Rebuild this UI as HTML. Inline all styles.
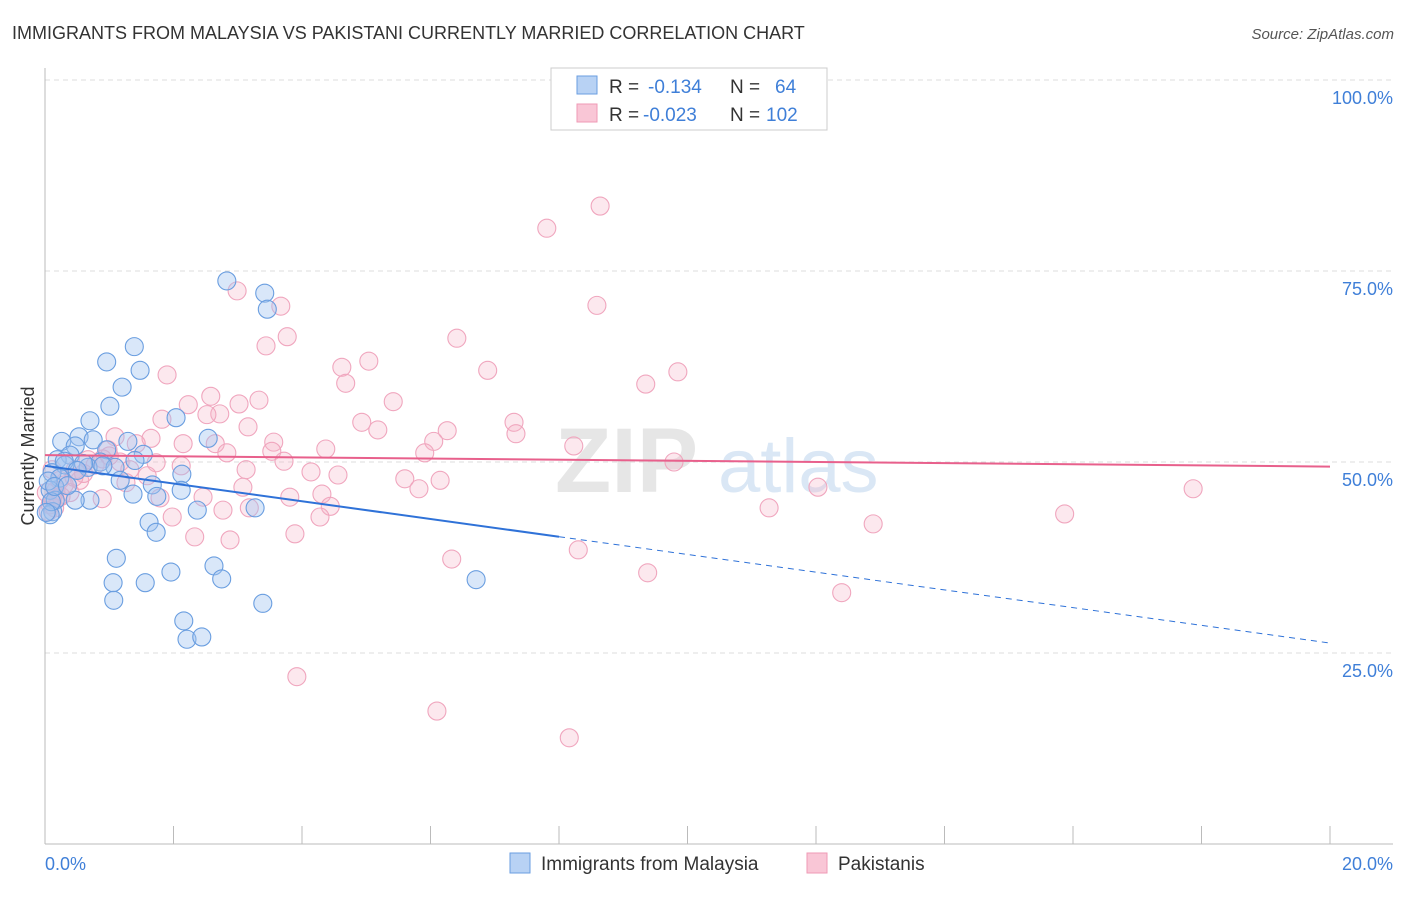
<!DOCTYPE html>
<html><head><meta charset="utf-8"><style>
body{margin:0;background:#fff;font-family:"Liberation Sans",sans-serif}
svg text{font-family:"Liberation Sans",sans-serif}
</style></head><body>
<svg id="c" width="1406" height="892" xmlns="http://www.w3.org/2000/svg">
<text x="12" y="39" font-size="18" fill="#333">IMMIGRANTS FROM MALAYSIA VS PAKISTANI CURRENTLY MARRIED CORRELATION CHART</text>
<text x="1394" y="39" font-size="15" fill="#555" text-anchor="end" font-style="italic">Source: ZipAtlas.com</text>
<g><text x="555" y="492" font-size="92" fill="#e6e6e6" font-family="Liberation Serif" font-weight="bold">ZIP</text><text x="718" y="492" font-size="76" fill="#dae7f5">atlas</text></g>
<g id="grid"></g><g id="pts"></g><g id="lines"></g>
<text transform="translate(34,456) rotate(-90)" font-size="18" fill="#333" text-anchor="middle">Currently Married</text>
<g>
<rect x="551" y="68" width="276" height="62" fill="#fff" stroke="#ccc"/>
<rect x="577" y="76" width="20" height="18" fill="#b8d2f4" stroke="#6a9ee0"/>
<rect x="577" y="104" width="20" height="18" fill="#f9c6d6" stroke="#ef9ab5"/>
<text x="609" y="93" font-size="19" fill="#333">R =</text><text x="648" y="93" font-size="19" fill="#3f7fd8">-0.134</text>
<text x="730" y="93" font-size="19" fill="#333">N =</text><text x="775" y="93" font-size="19" fill="#3f7fd8">64</text>
<text x="609" y="121" font-size="19" fill="#333">R =</text><text x="643" y="121" font-size="19" fill="#3f7fd8">-0.023</text>
<text x="730" y="121" font-size="19" fill="#333">N =</text><text x="766" y="121" font-size="19" fill="#3f7fd8">102</text>
</g>
<g>
<rect x="510" y="853" width="20" height="20" fill="#b8d2f4" stroke="#6a9ee0"/>
<text x="541" y="870" font-size="19" fill="#333">Immigrants from Malaysia</text>
<rect x="807" y="853" width="20" height="20" fill="#f9c6d6" stroke="#ef9ab5"/>
<text x="838" y="870" font-size="19" fill="#333">Pakistanis</text>
</g>
</svg>
<script>
const xTicks=[0,2,4,6,8,10,12,14,16,18,20];
const yTicks=[25,50,75,100];
const blueX=[2.83,3.42,3.46,1.39,0.96,1.48,1.20,1.01,0.70,2.04,2.54,0.53,0.75,0.26,0.47,1.29,0.96,1.53,0.39,0.19,0.86,0.31,0.67,1.09,2.13,0.11,0.23,1.17,1.67,0.08,2.12,1.37,1.74,0.70,0.47,0.16,3.27,2.37,0.12,0.08,1.62,1.73,1.11,2.63,1.96,1.06,1.56,2.75,6.71,1.07,3.39,2.16,2.21,2.44,0.05,0.6,0.9,0.3,0.1,0.15,0.5,0.35,1.4,0.02];
const blueY=[73.7,72.1,70.0,65.1,63.1,62.0,59.8,57.3,55.4,55.8,53.1,53.3,52.9,52.7,52.1,52.7,51.6,51.0,50.9,50.3,50.0,49.6,49.3,49.3,48.4,48.6,47.9,47.6,47.0,46.3,46.3,45.8,45.5,45.0,45.0,45.0,44.0,43.7,43.5,43.1,42.1,40.8,37.4,36.4,35.6,34.2,34.2,34.7,34.6,31.9,31.5,29.2,26.8,27.1,47.5,49.8,49.5,50.1,44.8,46.8,48.9,46.9,50.2,43.4];
const pinkX=[8.64,7.81,8.59,2.99,3.67,3.44,3.77,6.41,5.04,4.62,6.89,9.85,9.35,4.68,1.90,2.58,3.33,5.42,3.02,2.23,1.82,2.72,2.52,4.93,7.30,5.18,6.26,7.33,3.16,1.65,1.09,6.05,8.23,3.56,4.37,2.65,2.15,1.42,3.53,5.91,2.83,0.98,1.73,3.72,9.79,2.12,3.13,4.14,4.56,1.59,5.60,6.15,12.03,17.87,5.82,3.08,1.26,4.31,3.81,1.79,2.46,0.89,4.44,3.18,2.77,11.27,15.87,4.28,1.98,12.89,3.89,2.33,2.88,8.30,6.33,9.38,12.40,3.92,6.10,8.16,0.11,0.17,0.08,0.23,0.47,0.67,0.39,0.20,0.54,0.78,1.17,1.32,0.05,0.12,0.3,0.6,0.9,0.02,0.15,1.0,0.45,0.25];
const pinkY=[83.5,80.6,70.5,72.4,70.4,65.2,66.4,66.2,63.2,62.4,62.0,61.8,60.2,60.3,61.4,58.6,58.1,57.9,57.6,57.5,55.6,56.3,56.2,55.2,55.2,54.2,54.1,53.7,54.6,53.1,53.3,52.7,52.1,52.6,51.7,52.4,52.4,52.4,51.4,51.2,51.2,51.6,49.9,50.1,50.0,49.5,49.0,48.7,48.3,48.2,47.8,47.6,46.7,46.5,46.5,46.7,47.3,45.8,45.4,45.3,45.4,45.2,44.2,44.0,43.7,44.0,43.2,42.8,42.8,41.9,40.6,40.2,39.8,38.5,37.3,35.5,32.9,21.9,17.4,13.9,49.0,46.3,44.4,47.6,49.0,50.3,46.0,45.3,47.6,49.6,50.0,49.0,43.5,45.0,47.0,48.5,50.4,46.0,44.0,50.8,48.0,45.5];
const blueTrend=[49.5,26.3], blueSolidEnd=8.0;
const pinkTrend=[50.9,49.4];
const X0=45,X1=1330,Y0=844,Y100=80;
const sx=v=>X0+(X1-X0)*v/20, sy=v=>Y0-(Y0-Y100)*v/100;
const NS="http://www.w3.org/2000/svg";
function mk(p,t,a){const e=document.createElementNS(NS,t);for(const k in a)e.setAttribute(k,a[k]);p.appendChild(e);return e;}
const g=document.getElementById('grid');
yTicks.forEach(v=>{const l=mk(g,'line',{x1:X0,x2:1393,y1:sy(v),y2:sy(v),stroke:'#ddd','stroke-dasharray':'5,4'});


const t=mk(g,'text',{x:1393,y:sy(v)+24,'font-size':18,fill:'#3f7fd8','text-anchor':'end'});t.textContent=v.toFixed(1)+'%';

});
mk(g,'line',{x1:X0,x2:X0,y1:68,y2:Y0,stroke:'#bbb'});
mk(g,'line',{x1:X0,x2:1393,y1:Y0,y2:Y0,stroke:'#bbb'});
xTicks.forEach(v=>{const l=mk(g,'line',{x1:sx(v),x2:sx(v),y1:Y0,y2:826,stroke:'#bbb'});

});
[[0,'0.0%','start',45],[20,'20.0%','end',1393]].forEach(a=>{const t=mk(g,'text',{x:a[3],y:870,'font-size':18,fill:'#3f7fd8','text-anchor':a[2]});t.textContent=a[1];

});
const P=document.getElementById('pts');
pinkX.forEach((x,i)=>{const c=mk(P,'circle',{cx:sx(x),cy:sy(pinkY[i]),r:9,fill:'rgba(246,180,200,0.3)',stroke:'#f0a6be','stroke-width':1.1});

});
blueX.forEach((x,i)=>{const c=mk(P,'circle',{cx:sx(x),cy:sy(blueY[i]),r:9,fill:'rgba(160,195,240,0.4)',stroke:'#6a9ee0','stroke-width':1.1});

});
const L=document.getElementById('lines');
const by=x=>blueTrend[0]+(blueTrend[1]-blueTrend[0])*x/20;
let l1=mk(L,'line',{x1:sx(0),y1:sy(by(0)),x2:sx(blueSolidEnd),y2:sy(by(blueSolidEnd)),stroke:'#2f72d8','stroke-width':2});


let l2=mk(L,'line',{x1:sx(blueSolidEnd),y1:sy(by(blueSolidEnd)),x2:sx(20),y2:sy(by(20)),stroke:'#2f72d8','stroke-width':1,'stroke-dasharray':'6,5'});


let l3=mk(L,'line',{x1:sx(0),y1:sy(pinkTrend[0]),x2:sx(20),y2:sy(pinkTrend[1]),stroke:'#e8608c','stroke-width':2});


</script>
</body></html>
